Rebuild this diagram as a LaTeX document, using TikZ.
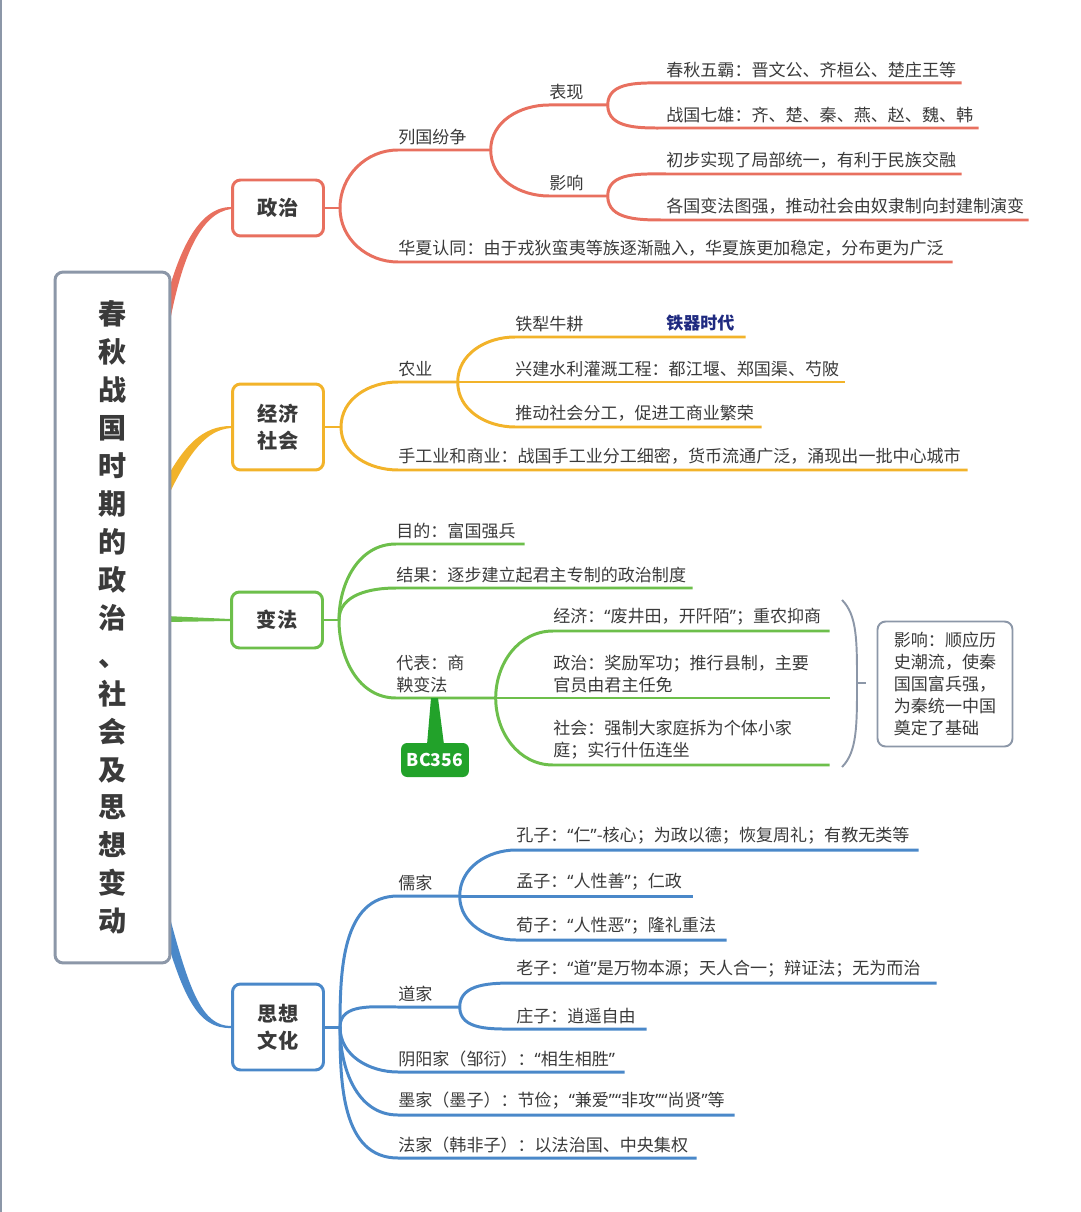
\documentclass[tikz,border=0pt]{standalone}
\usepackage{fontspec}
\setmainfont{Noto Sans CJK SC}
\newfontfamily\qfont{Noto Sans}
\newcommand{\oqt}{{\qfont “}}
\newcommand{\cqt}{{\qfont ”}}
\exhyphenpenalty=10000
\usetikzlibrary{backgrounds,calc}

\definecolor{cpol}{HTML}{E8705F}
\definecolor{ceco}{HTML}{F2B32A}
\definecolor{cref}{HTML}{6DBF4B}
\definecolor{cthk}{HTML}{4A88C9}
\definecolor{cgry}{HTML}{8C97A8}
\definecolor{ctxt}{HTML}{3A3A3A}
\definecolor{cnavy}{HTML}{1F2A80}
\definecolor{cbc}{HTML}{22A22A}

\tikzset{
  leaf/.style={anchor=south west, inner xsep=0pt, inner ysep=0.1cm, text width=#1*0.02cm, align=left, text=ctxt, font=\fontsize{9.7}{12.5}\selectfont},
  cat/.style={draw=#1, fill=white, line width=1.7pt, rounded corners=0.16cm, minimum width=1.82cm, align=center, text=ctxt, font=\bfseries\fontsize{11.5}{15.4}\selectfont},
  br/.style={draw=#1, line width=1.7pt}
}

\begin{document}
\begin{tikzpicture}[x=0.02cm, y=-0.02cm]
\useasboundingbox (0,0) rectangle (1080,1212);
\draw[cgry, line width=1.2pt] (1,0) -- (1,1212);

% centre and main branches
\node[draw=cgry, fill=white, line width=1.7pt, rounded corners=0.16cm, minimum width=2.3cm, minimum height=13.82cm, align=center, text=ctxt, font=\bfseries\fontsize{16}{21.6}\selectfont] (title) at (112.5,617.5) {春\\秋\\战\\国\\时\\期\\的\\政\\治\\、\\社\\会\\及\\思\\想\\变\\动};
\node[cat=cpol, minimum height=1.12cm] (pol) at (278,208) {政治};
\node[cat=ceco, minimum height=1.72cm] (eco) at (278,427) {经济\\社会};
\node[cat=cref, minimum height=1.12cm] (ref) at (277,620) {变法};
\node[cat=cthk, minimum height=1.72cm] (thk) at (278,1027) {思想\\文化};

\coordinate (rP) at (166,312);
\coordinate (rE) at (166,488);
\coordinate (rR) at (166,619);
\coordinate (rT) at (166,922);
\begin{scope}[on background layer]
\fill[cpol] ($(rP)+(-2,-4)$) .. controls +(14,-56) and +(-33,0) .. ($(pol.west)+(0,-1)$) -- ($(pol.west)+(0,1)$) .. controls +(-30,4) and +(12,-60) .. ($(rP)+(5,4)$) -- cycle;
\fill[ceco] ($(rE)+(-2,-5)$) .. controls +(20,-38) and +(-28,0) .. ($(eco.west)+(0,-1)$) -- ($(eco.west)+(0,1)$) .. controls +(-25,2) and +(20,-40) .. ($(rE)+(4,4)$) -- cycle;
\fill[cref] ($(rR)+(0,-3)$) -- ($(ref.west)+(0,-1)$) -- ($(ref.west)+(0,1)$) -- ($(rR)+(0,3)$) -- cycle;
\fill[cthk] ($(rT)+(4,-4)$) .. controls +(20,75) and +(-28,0) .. ($(thk.west)+(0,-1)$) -- ($(thk.west)+(0,1)$) .. controls +(-33,1) and +(20,70) .. ($(rT)+(-3,5)$) -- cycle;
\end{scope}

% 政治
\coordinate (fP) at (340,208);
\node[leaf=92] (lgfz) at (398,150) {列国纷争};
\node[leaf=58] (bx) at (549,105) {表现};
\node[leaf=295] (cq) at (666,83) {春秋五霸：晋文公、齐桓公、楚庄王等};
\node[leaf=312] (zg) at (666,128) {战国七雄：齐、楚、秦、燕、赵、魏、韩};
\node[leaf=58] (yx) at (549,196) {影响};
\node[leaf=295] (cb) at (666,174) {初步实现了局部统一，有利于民族交融};
\node[leaf=362] (gg) at (666,220) {各国变法图强，推动社会由奴隶制向封建制演变};
\node[leaf=554] (hx) at (398,262) {华夏认同：由于戎狄蛮夷等族逐渐融入，华夏族更加稳定，分布更为广泛};
\draw[br=cpol] (pol.east) -- (fP);
\draw[br=cpol] (fP) to[out=90,in=180] (lgfz.south west) -- (lgfz.south east);
\draw[br=cpol] (fP) to[out=-90,in=180] (hx.south west) -- (hx.south east);
\draw[br=cpol] (lgfz.south east) to[out=90,in=180] (bx.south west) -- (bx.south east);
\draw[br=cpol] (lgfz.south east) to[out=-90,in=180] (yx.south west) -- (yx.south east);
\draw[br=cpol] (bx.south east) to[out=90,in=180] (cq.south west) -- (cq.south east);
\draw[br=cpol] (bx.south east) to[out=-90,in=180] (zg.south west) -- (zg.south east);
\draw[br=cpol] (yx.south east) to[out=90,in=180] (cb.south west) -- (cb.south east);
\draw[br=cpol] (yx.south east) to[out=-90,in=180] (gg.south west) -- (gg.south east);

% 经济社会
\coordinate (fE) at (341,427);
\node[leaf=59] (ny) at (398,382) {农业};
\node[leaf=230] (tl) at (515,337) {铁犁牛耕};
\node[anchor=south west, inner xsep=0pt, inner ysep=0.1cm, text=cnavy, font=\bfseries\fontsize{9.7}{12.5}\selectfont] (tq) at (666,337) {铁器时代};
\node[leaf=329] (xj) at (515,382) {兴建水利灌溉工程：都江堰、郑国渠、芍陂};
\node[leaf=246] (td) at (515,427) {推动社会分工，促进工商业繁荣};
\node[leaf=569] (sg) at (398,470) {手工业和商业：战国手工业分工细密，货币流通广泛，涌现出一批中心城市};
\draw[br=ceco] (eco.east) -- (fE);
\draw[br=ceco] (fE) to[out=90,in=180] (ny.south west) -- (ny.south east);
\draw[br=ceco] (fE) to[out=-90,in=180] (sg.south west) -- (sg.south east);
\draw[br=ceco] (ny.south east) to[out=90,in=180] (tl.south west) -- (tl.south east);
\draw[br=ceco] (ny.south east) -- (xj.south west) -- (xj.south east);
\draw[br=ceco] (ny.south east) to[out=-90,in=180] (td.south west) -- (td.south east);

% 变法
\coordinate (fR) at (339,620);
\node[leaf=128] (md) at (396,544) {目的：富国强兵};
\node[leaf=296] (jg) at (396,588) {结果：逐步建立起君主专制的政治制度};
\node[leaf=99] (db) at (396,698) {代表：商\\鞅变法};
\node[leaf=276] (jj) at (553,631) {经济：\oqt 废井田，开阡陌\cqt ；重农抑商};
\node[leaf=276] (zz) at (553,698) {政治：奖励军功；推行县制，主要\\官员由君主任免};
\node[leaf=276] (sh) at (553,765) {社会：强制大家庭拆为个体小家\\庭；实行什伍连坐};
\draw[br=cref] (ref.east) -- (fR);
\draw[br=cref] (fR) to[out=90,in=180] (md.south west) -- (md.south east);
\draw[br=cref] (fR) to[out=90,in=180] (jg.south west) -- (jg.south east);
\draw[br=cref] (fR) to[out=-90,in=180] (db.south west) -- (db.south east);
\draw[br=cref] (db.south east) to[out=90,in=180] (jj.south west) -- (jj.south east);
\draw[br=cref] (db.south east) -- (zz.south west) -- (zz.south east);
\draw[br=cref] (db.south east) to[out=-90,in=180] (sh.south west) -- (sh.south east);

\node[fill=cbc, rounded corners=0.12cm, minimum width=1.22cm, minimum height=0.68cm, text=white, font=\bfseries\fontsize{10}{12}\selectfont] (bc) at (435,760) {BC356};
\coordinate (bcTip) at ($(db.south west)+(38,0)$);
\fill[cbc] ($(bc.north)+(-8,2)$) -- ($(bcTip)+(-3,0)$) -- ($(bcTip)+(4,0)$) -- ($(bc.north)+(9,2)$) -- cycle;

\draw[cgry, line width=1.1pt] (842,600) .. controls (857,615) and (857,640) .. (857,683) .. controls (857,726) and (857,752) .. (842,767);
\coordinate (brc) at (857,683);
\draw[cgry, line width=1.1pt] (brc) -- ++(9,0);
\node[draw=cgry, line width=1.1pt, rounded corners=0.16cm, minimum width=2.7cm, minimum height=2.5cm, align=left, text=ctxt, font=\fontsize{9.7}{12.5}\selectfont] (sy) at (945,684) {影响：顺应历\\史潮流，使秦\\国国富兵强，\\为秦统一中国\\奠定了基础};

% 思想文化
\coordinate (fT) at (340,1027);
\node[leaf=61] (rj) at (398,896) {儒家};
\node[leaf=402] (kz) at (516,850) {孔子：\oqt 仁\cqt -核心；为政以德；恢复周礼；有教无类等};
\node[leaf=176] (mz) at (516,896) {孟子：\oqt 人性善\cqt ；仁政};
\node[leaf=210] (xz) at (516,940) {荀子：\oqt 人性恶\cqt ；隆礼重法};
\node[leaf=61] (dj) at (398,1007) {道家};
\node[leaf=420] (lz) at (516,983) {老子：\oqt 道\cqt 是万物本源；天人合一；辩证法；无为而治};
\node[leaf=130] (zzi) at (516,1029) {庄子：逍遥自由};
\node[leaf=226] (yy) at (398,1072) {阴阳家（邹衍）：\oqt 相生相胜\cqt};
\node[leaf=336] (mj) at (398,1115) {墨家（墨子）：节俭；\oqt 兼爱\cqt\oqt 非攻\cqt\oqt 尚贤\cqt 等};
\node[leaf=298] (fj) at (398,1158) {法家（韩非子）：以法治国、中央集权};
\draw[br=cthk] (thk.east) -- (fT);
\draw[br=cthk] (fT) to[out=90,in=180] (rj.south west) -- (rj.south east);
\draw[br=cthk] (fT) to[out=90,in=180] (dj.south west) -- (dj.south east);
\foreach \n in {yy,mj,fj}
  \draw[br=cthk] (fT) to[out=-90,in=180] (\n.south west) -- (\n.south east);
\draw[br=cthk] (rj.south east) to[out=90,in=180] (kz.south west) -- (kz.south east);
\draw[br=cthk] (rj.south east) -- (mz.south west) -- (mz.south east);
\draw[br=cthk] (rj.south east) to[out=-90,in=180] (xz.south west) -- (xz.south east);
\draw[br=cthk] (dj.south east) to[out=90,in=180] (lz.south west) -- (lz.south east);
\draw[br=cthk] (dj.south east) to[out=-90,in=180] (zzi.south west) -- (zzi.south east);
\end{tikzpicture}
\end{document}
